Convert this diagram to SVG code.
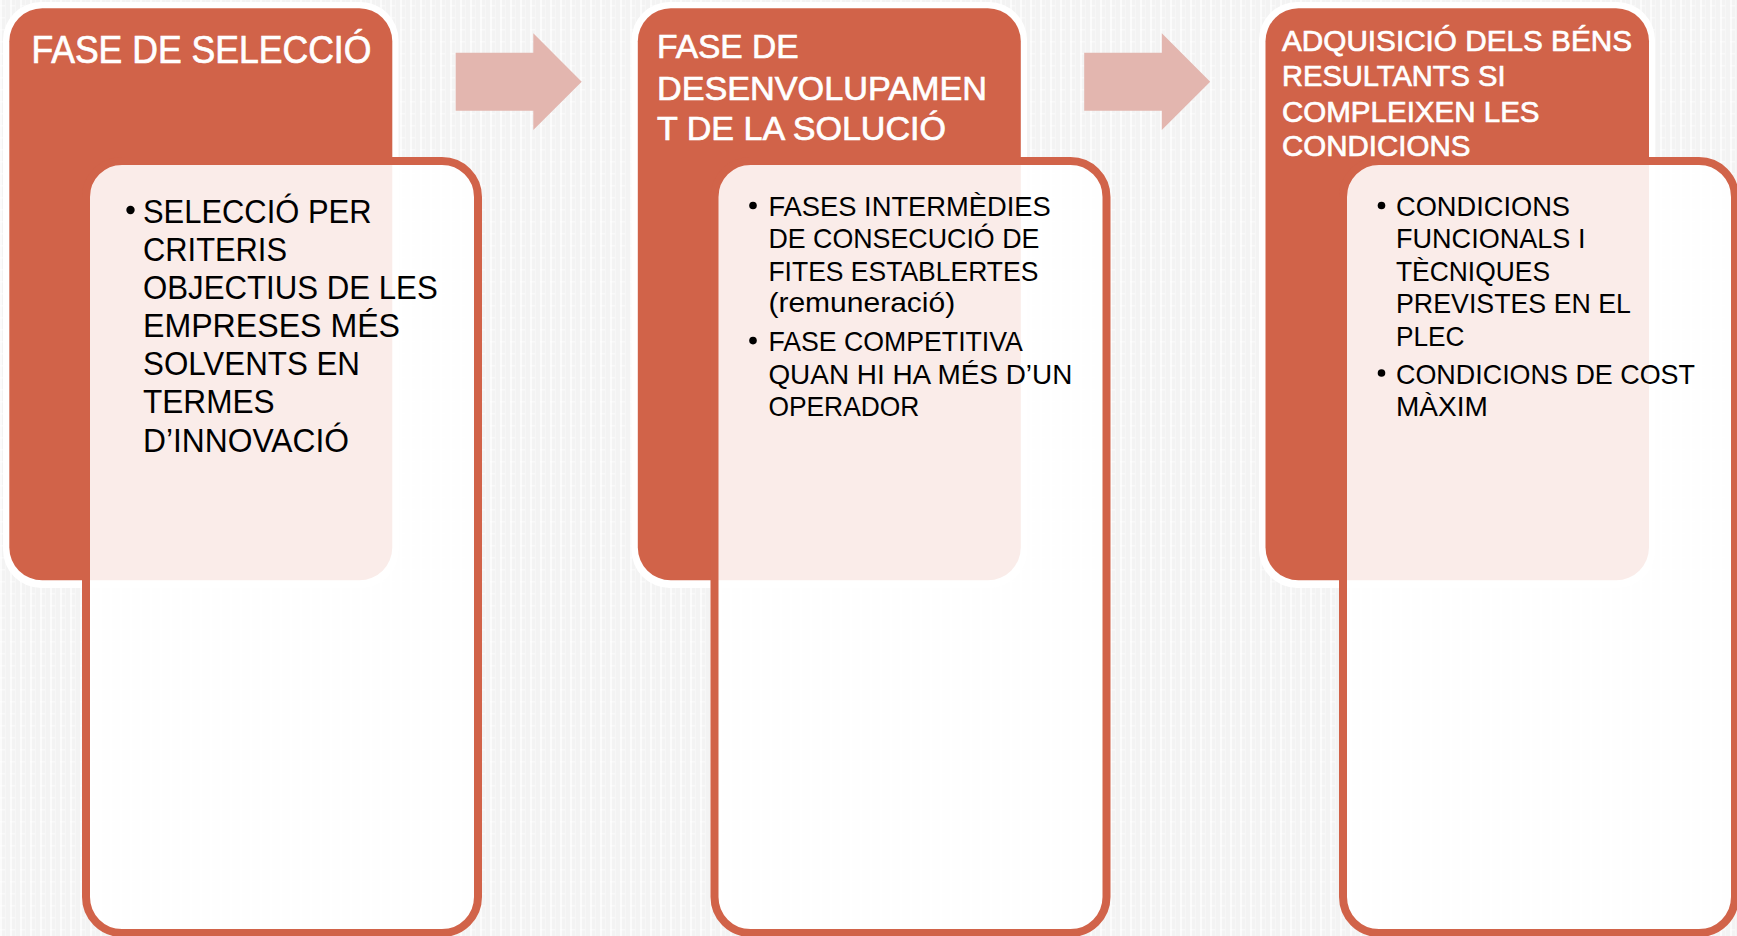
<svg xmlns="http://www.w3.org/2000/svg" width="1737" height="936" viewBox="0 0 1737 936">
<defs>
<pattern id="bg" width="10" height="12" patternUnits="userSpaceOnUse">
<rect width="10" height="12" fill="#F3F3F3"/>
<rect x="0" y="0" width="2" height="12" fill="#FFFFFF" opacity="0.7"/>
<rect x="5" y="0" width="1" height="12" fill="#FFFFFF" opacity="0.3"/>
<rect x="0" y="5" width="5" height="1.5" fill="#FFFFFF" opacity="0.5"/>
</pattern>
<style>
.hdr-out{fill:#FFFFFF;}
.hdr{fill:#D16349;}
.inner{fill:#FFFFFF;fill-opacity:0.88;stroke:#D16349;stroke-width:8;}
.arrow{fill:#E3B6AF;}
.ht{font-family:"Liberation Sans",Arial,sans-serif;fill:#FFFFFF;stroke:#FFFFFF;stroke-width:0.7;}
.bt{font-family:"Liberation Sans",Arial,sans-serif;fill:#000000;}
.dot{fill:#000000;}
</style>
</defs>
<rect width="1737" height="936" fill="url(#bg)"/>

<g id="connectors">
<polygon class="arrow" points="455.7,52.7 533.3,52.7 533.3,33.3 581.7,81.7 533.3,130 533.3,110.7 455.7,110.7"/>
<polygon class="arrow" points="1084.2,52.7 1161.8,52.7 1161.8,33.3 1210.2,81.7 1161.8,130 1161.8,110.7 1084.2,110.7"/>
</g>

<g id="panel1">
<rect class="hdr-out" x="3" y="2" width="395.5" height="586" rx="38"/>
<rect class="hdr" x="9.3" y="8.3" width="383" height="572" rx="33"/>
<rect class="inner" x="86" y="161" width="392" height="772" rx="36"/>
<text class="ht" x="31.4" y="63" font-size="38" textLength="340" lengthAdjust="spacingAndGlyphs">FASE DE SELECCIÓ</text>
<circle class="dot" cx="130.5" cy="210" r="4.2"/>
<g class="bt" font-size="33">
<text x="143" y="223" textLength="228.5" lengthAdjust="spacingAndGlyphs">SELECCIÓ PER</text>
<text x="143" y="261" textLength="144" lengthAdjust="spacingAndGlyphs">CRITERIS</text>
<text x="143" y="299" textLength="294.7" lengthAdjust="spacingAndGlyphs">OBJECTIUS DE LES</text>
<text x="143" y="337" textLength="257" lengthAdjust="spacingAndGlyphs">EMPRESES MÉS</text>
<text x="143" y="375" textLength="217" lengthAdjust="spacingAndGlyphs">SOLVENTS EN</text>
<text x="143" y="413" textLength="131.6" lengthAdjust="spacingAndGlyphs">TERMES</text>
<text x="143" y="452" textLength="206" lengthAdjust="spacingAndGlyphs">D’INNOVACIÓ</text>
</g>
</g>

<g id="panel2">
<rect class="hdr-out" x="631.5" y="2" width="395.5" height="586" rx="38"/>
<rect class="hdr" x="637.8" y="8.3" width="383" height="572" rx="33"/>
<rect class="inner" x="714.5" y="161" width="392" height="772" rx="36"/>
<g class="ht" font-size="34">
<text x="657" y="58.2" textLength="141.6" lengthAdjust="spacingAndGlyphs">FASE DE</text>
<text x="657" y="99.5" textLength="330" lengthAdjust="spacingAndGlyphs">DESENVOLUPAMEN</text>
<text x="657" y="140" textLength="289" lengthAdjust="spacingAndGlyphs">T DE LA SOLUCIÓ</text>
</g>
<circle class="dot" cx="753" cy="205.5" r="3.8"/>
<circle class="dot" cx="753" cy="340.6" r="3.8"/>
<g class="bt" font-size="28">
<text x="768.4" y="215.5" textLength="282.4" lengthAdjust="spacingAndGlyphs">FASES INTERMÈDIES</text>
<text x="768.4" y="247.6" textLength="271" lengthAdjust="spacingAndGlyphs">DE CONSECUCIÓ DE</text>
<text x="768.4" y="280.5" textLength="270" lengthAdjust="spacingAndGlyphs">FITES ESTABLERTES</text>
<text x="768.4" y="312" textLength="186.8" lengthAdjust="spacingAndGlyphs">(remuneració)</text>
<text x="768.4" y="351" textLength="254.5" lengthAdjust="spacingAndGlyphs">FASE COMPETITIVA</text>
<text x="768.4" y="384" textLength="304" lengthAdjust="spacingAndGlyphs">QUAN HI HA MÉS D’UN</text>
<text x="768.4" y="416" textLength="151" lengthAdjust="spacingAndGlyphs">OPERADOR</text>
</g>
</g>

<g id="panel3">
<rect class="hdr-out" x="1259" y="2" width="396" height="586" rx="38"/>
<rect class="hdr" x="1265.5" y="8.3" width="383.5" height="572" rx="33"/>
<rect class="inner" x="1343" y="161" width="392" height="772" rx="36"/>
<g class="ht" font-size="29">
<text x="1282" y="51" textLength="350" lengthAdjust="spacingAndGlyphs">ADQUISICIÓ DELS BÉNS</text>
<text x="1282" y="86" textLength="223.6" lengthAdjust="spacingAndGlyphs">RESULTANTS SI</text>
<text x="1282" y="121.7" textLength="257.5" lengthAdjust="spacingAndGlyphs">COMPLEIXEN LES</text>
<text x="1282" y="156" textLength="188.4" lengthAdjust="spacingAndGlyphs">CONDICIONS</text>
</g>
<circle class="dot" cx="1381.5" cy="205.5" r="3.8"/>
<circle class="dot" cx="1381.5" cy="373" r="3.8"/>
<g class="bt" font-size="28">
<text x="1396" y="215.5" textLength="174" lengthAdjust="spacingAndGlyphs">CONDICIONS</text>
<text x="1396" y="247.6" textLength="189.4" lengthAdjust="spacingAndGlyphs">FUNCIONALS I</text>
<text x="1396" y="280.5" textLength="154" lengthAdjust="spacingAndGlyphs">TÈCNIQUES</text>
<text x="1396" y="313" textLength="235" lengthAdjust="spacingAndGlyphs">PREVISTES EN EL</text>
<text x="1396" y="345.6" textLength="68.5" lengthAdjust="spacingAndGlyphs">PLEC</text>
<text x="1396" y="384" textLength="299" lengthAdjust="spacingAndGlyphs">CONDICIONS DE COST</text>
<text x="1396" y="416" textLength="91.8" lengthAdjust="spacingAndGlyphs">MÀXIM</text>
</g>
</g>
</svg>
